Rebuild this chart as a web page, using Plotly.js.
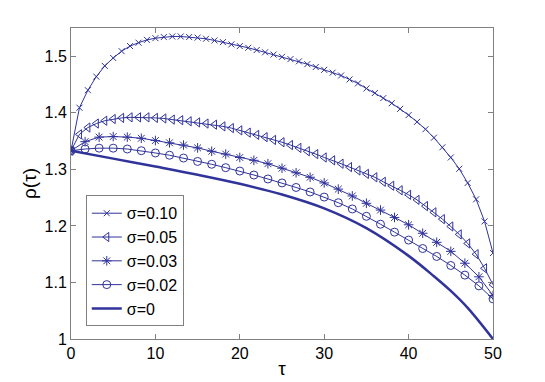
<!DOCTYPE html>
<html>
<head>
<meta charset="utf-8">
<script src="https://cdn.plot.ly/plotly-3.0.1.min.js"></script>
<style>
  html, body { margin: 0; padding: 0; background: #fff; }
  #chart { width: 545px; height: 382px; }
</style>
</head>
<body>
<div id="chart"></div>
<script>
// tau grids (every step for sigma=0.10 / 0.05, every 5/3 for 0.03 / 0.02)
var tauFine = [0, 1, 2, 3, 4, 5, 6, 7, 8, 9, 10, 11, 12, 13, 14, 15, 16, 17, 18, 19, 20,
    21, 22, 23, 24, 25, 26, 27, 28, 29, 30, 31, 32, 33, 34, 35, 36, 37, 38, 39, 40,
    41, 42, 43, 44, 45, 46, 47, 48, 49, 50];
var tauCoarse = [0, 1.67, 3.33, 5, 6.67, 8.33, 10, 11.67, 13.33, 15, 16.67, 18.33, 20,
    21.67, 23.33, 25, 26.67, 28.33, 30, 31.67, 33.33, 35, 36.67, 38.33, 40, 41.67,
    43.33, 45, 46.67, 48.33, 50];
var tauSmooth = [0, 5, 10, 15, 20, 25, 30, 35, 40, 43, 45, 47, 50];

var rho10 = [1.333, 1.409, 1.440, 1.464, 1.483, 1.497, 1.509, 1.518, 1.524, 1.529, 1.532,
    1.534, 1.535, 1.535, 1.534, 1.533, 1.531, 1.528, 1.525, 1.521, 1.518, 1.515, 1.511,
    1.507, 1.503, 1.499, 1.495, 1.491, 1.486, 1.481, 1.476, 1.471, 1.466, 1.459, 1.452,
    1.443, 1.435, 1.426, 1.417, 1.407, 1.396, 1.384, 1.371, 1.356, 1.339, 1.321, 1.301,
    1.276, 1.247, 1.208, 1.152];
var rho05 = [1.333, 1.362, 1.374, 1.381, 1.386, 1.389, 1.391, 1.392, 1.392, 1.392, 1.391,
    1.390, 1.388, 1.387, 1.385, 1.383, 1.381, 1.379, 1.376, 1.373, 1.369, 1.365, 1.361,
    1.357, 1.352, 1.348, 1.343, 1.338, 1.332, 1.327, 1.321, 1.316, 1.310, 1.304, 1.298,
    1.292, 1.286, 1.278, 1.271, 1.263, 1.255, 1.246, 1.235, 1.224, 1.212, 1.199, 1.185,
    1.169, 1.150, 1.125, 1.096];
var rho03 = [1.333, 1.349, 1.357, 1.358, 1.357, 1.355, 1.351, 1.347, 1.343, 1.338, 1.332,
    1.327, 1.321, 1.316, 1.310, 1.302, 1.294, 1.286, 1.276, 1.265, 1.253, 1.240, 1.228,
    1.215, 1.202, 1.187, 1.171, 1.155, 1.134, 1.110, 1.077];
var rho02 = [1.333, 1.336, 1.3375, 1.3375, 1.336, 1.333, 1.329, 1.325, 1.320, 1.314, 1.309,
    1.303, 1.297, 1.290, 1.283, 1.276, 1.268, 1.260, 1.251, 1.241, 1.230, 1.217, 1.203,
    1.189, 1.175, 1.160, 1.146, 1.130, 1.113, 1.094, 1.071];
var rho00 = [1.333, 1.319, 1.305, 1.2905, 1.2745, 1.2555, 1.231, 1.196, 1.147, 1.111, 1.085,
    1.055, 1.000];

var names = ['σ=0.10', 'σ=0.05', 'σ=0.03', 'σ=0.02', 'σ=0'];
var blue = '#30339a';

function markerTrace(x, y, name, symbol, size) {
    return {
        x: x, y: y, name: name,
        mode: 'lines+markers',
        line: {color: blue, width: 1},
        marker: {symbol: symbol, size: size, color: blue, line: {color: blue, width: 1}}
    };
}

var data = [
    markerTrace(tauFine, rho10, names[0], 'x-thin-open', 6),
    markerTrace(tauFine, rho05, names[1], 'triangle-left-open', 8),
    markerTrace(tauCoarse, rho03, names[2], 'asterisk-open', 8),
    markerTrace(tauCoarse, rho02, names[3], 'circle-open', 8),
    {
        x: tauSmooth, y: rho00, name: names[4],
        mode: 'lines',
        line: {color: blue, width: 2.5, shape: 'spline', smoothing: 1}
    }
];

var axisStyle = {
    showline: true, mirror: 'allticks', linecolor: '#808080', linewidth: 1,
    ticks: 'inside', ticklen: 5, tickcolor: '#808080',
    showgrid: false, zeroline: false,
    tickfont: {family: 'Liberation Sans, Arial, sans-serif', size: 16, color: '#000'}
};

var layout = {
    width: 545, height: 382,
    margin: {l: 71, r: 52, t: 28, b: 43},
    paper_bgcolor: '#fff', plot_bgcolor: '#fff',
    font: {family: 'Liberation Sans, Arial, sans-serif', size: 16, color: '#000'},
    xaxis: Object.assign({}, axisStyle, {
        range: [0, 50], tickvals: [0, 10, 20, 30, 40, 50],
        title: {text: 'τ', standoff: 0}
    }),
    yaxis: Object.assign({}, axisStyle, {
        range: [1, 1.55], tickvals: [1, 1.1, 1.2, 1.3, 1.4, 1.5],
        title: {text: 'ρ(τ)', standoff: 2}
    }),
    showlegend: true,
    legend: {
        x: 0.035, y: 0.462, xanchor: 'left', yanchor: 'top',
        bgcolor: '#fff', bordercolor: '#808080', borderwidth: 1,
        itemwidth: 30, tracegroupgap: 0,
        font: {size: 16}
    }
};

Plotly.newPlot('chart', data, layout, {displayModeBar: false, staticPlot: true});
</script>
</body>
</html>
